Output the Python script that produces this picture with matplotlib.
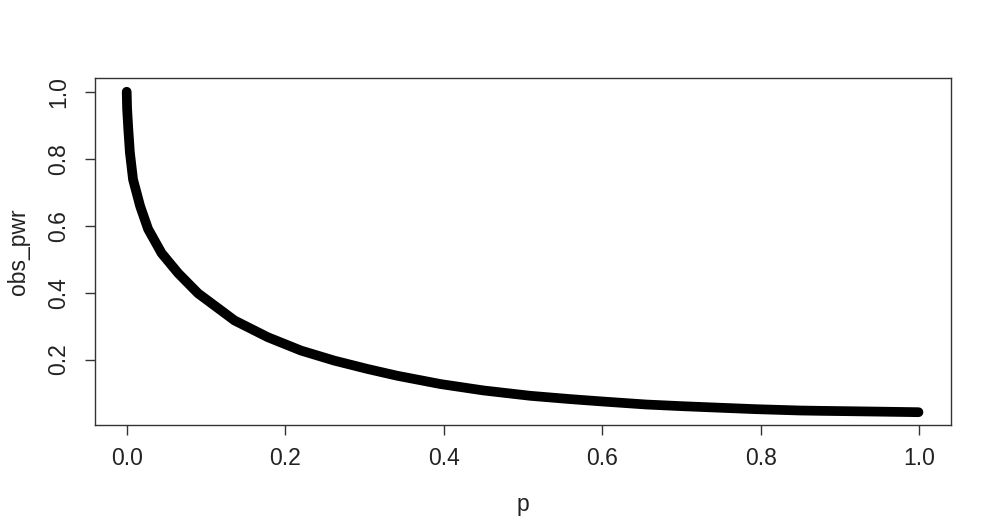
import matplotlib
matplotlib.use("Agg")
import matplotlib.pyplot as plt

p = [0.0, 0.0005, 0.002, 0.004, 0.008, 0.017, 0.027, 0.044, 0.065, 0.09,
     0.119, 0.136, 0.178, 0.22, 0.262, 0.304, 0.341, 0.396, 0.45, 0.509,
     0.56, 0.60, 0.655, 0.70, 0.731, 0.794, 0.85, 0.877, 0.94, 0.999]
obs_pwr = [1.0, 0.95, 0.889, 0.819, 0.738, 0.658, 0.590, 0.518, 0.458, 0.398,
           0.347, 0.317, 0.267, 0.227, 0.197, 0.172, 0.152, 0.127, 0.108, 0.092,
           0.082, 0.075, 0.066, 0.061, 0.058, 0.052, 0.048, 0.047, 0.045, 0.043]

x_ticks = [0.0, 0.2, 0.4, 0.6, 0.8, 1.0]
y_ticks = [0.2, 0.4, 0.6, 0.8, 1.0]

plt.rcParams['font.family'] = ['Liberation Sans', 'DejaVu Sans']

fig = plt.figure(figsize=(10, 5.25), dpi=100)
ax = fig.add_axes([0.095, 0.19, 0.856, 0.662])

ax.plot(p, obs_pwr, color="black", lw=7, solid_capstyle="round",
        solid_joinstyle="round")

ax.set_xlim(-0.04, 1.04)
ax.set_ylim(0.004, 1.042)
ax.set_xticks(x_ticks)
ax.set_xticklabels([f"{v:.1f}" for v in x_ticks])
ax.set_yticks(y_ticks)
ax.set_yticklabels([f"{v:.1f}" for v in y_ticks], rotation=90, va="center")

ax.tick_params(direction="out", length=7, width=1, labelsize=16.5, color="#333333",
               labelcolor="#222222")
ax.tick_params(axis="x", pad=9)
ax.tick_params(axis="y", pad=11)
for s in ax.spines.values():
    s.set_linewidth(1)
    s.set_color("#333333")

ax.set_xlabel("p", fontsize=16.5, color="#222222", labelpad=16)
ax.set_ylabel("obs_pwr", fontsize=16.5, color="#222222", labelpad=12)

fig.savefig("out.png", dpi=100)
